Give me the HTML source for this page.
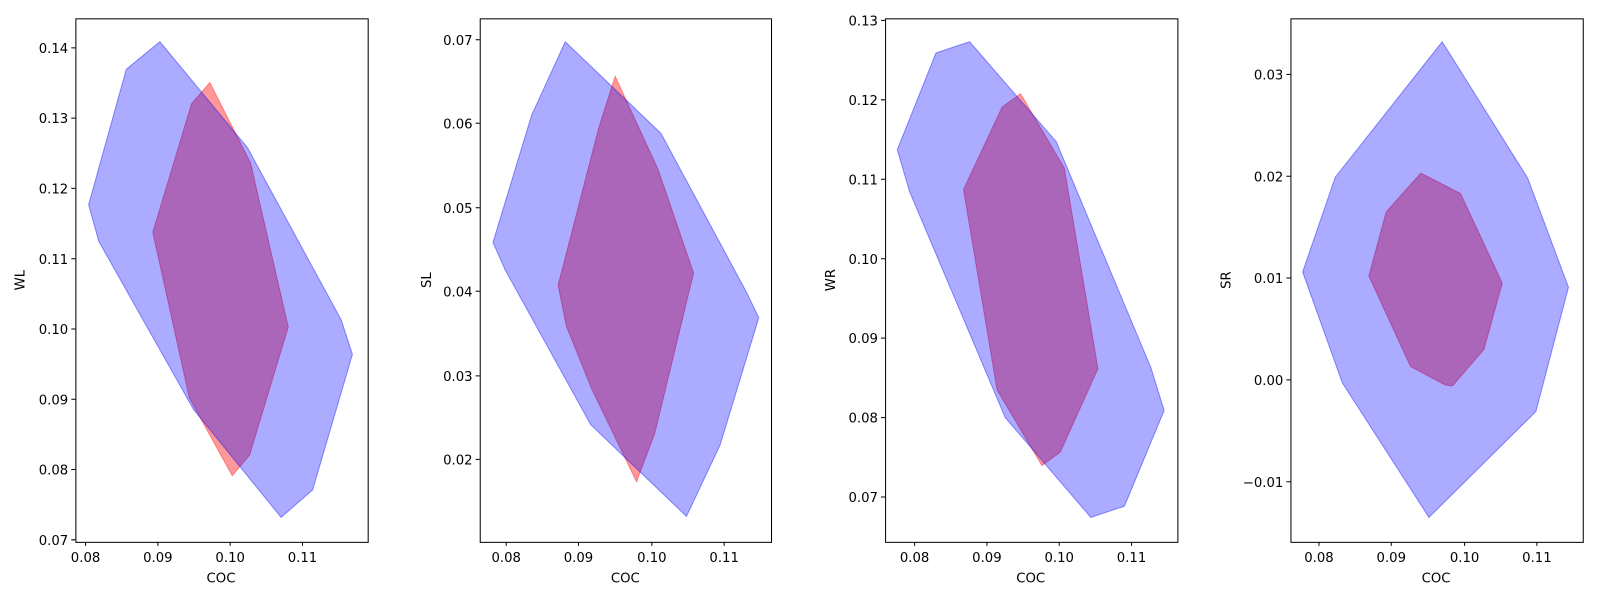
<!DOCTYPE html>
<html style="overflow:hidden"><head><style>html,body{margin:0;padding:0;overflow:hidden;background:#fff}svg{display:block}text{font-family:"DejaVu Sans","Liberation Sans",sans-serif;font-size:13px;fill:#000}</style></head>
<body>
<svg width="1597" height="600" viewBox="0 0 1568 589.1" preserveAspectRatio="none" xmlns="http://www.w3.org/2000/svg">
<g stroke-width="1">
<polygon points="150,228 188,102 206,81 246,160 283,321 245,447 228,467 186,391" fill="rgba(255,0,0,0.4)" stroke="rgba(255,0,0,0.4)"/>
<polygon points="87,201 124,68 157,41 243,145 335,314 346,348 307,481 276,508 190,402 97,237" fill="rgba(0,0,255,0.33)" stroke="rgba(0,0,255,0.4)"/>
<rect x="74.5" y="18.5" width="287" height="514" fill="none" stroke="#000"/>
<polygon points="548,280 588,125 604,75 646,166 681,268 643,425 625,473 581,382 556,320" fill="rgba(255,0,0,0.4)" stroke="rgba(255,0,0,0.4)"/>
<polygon points="484,238 522,113 555,41 649,131 733,287 745,312 707,437 674,507 580,417 496,265" fill="rgba(0,0,255,0.33)" stroke="rgba(0,0,255,0.4)"/>
<rect x="471.5" y="18.5" width="286" height="514" fill="none" stroke="#000"/>
<polygon points="946,186 984,105 1002,92 1045,165 1078,362 1041,444 1023,457 979,383" fill="rgba(255,0,0,0.4)" stroke="rgba(255,0,0,0.4)"/>
<polygon points="881,147 919,52 952,41 1037,139 1130,361 1143,403 1104,497 1071,508 987,410 893,188" fill="rgba(0,0,255,0.33)" stroke="rgba(0,0,255,0.4)"/>
<rect x="869.5" y="18.5" width="287" height="514" fill="none" stroke="#000"/>
<polygon points="1344,271 1361,208 1395,170 1434,190 1475,278 1457,343 1426,379 1419,378 1385,360" fill="rgba(255,0,0,0.4)" stroke="rgba(255,0,0,0.4)"/>
<polygon points="1279,267 1311,174 1416,41 1500,175 1540,282 1508,404 1403,508 1318,376" fill="rgba(0,0,255,0.33)" stroke="rgba(0,0,255,0.4)"/>
<rect x="1267.5" y="18.5" width="287" height="514" fill="none" stroke="#000"/>
</g>
<g stroke="#000">
<path d="M84,532v4M155,532v4M226,532v4M297,532v4 M497,532v4M568,532v4M640,532v4M711,532v4 M898,532v4M969,532v4M1040,532v4M1111,532v4 M1295,532v4M1366,532v4M1438,532v4M1509,532v4"/>
<path d="M74,47h-4M74,116h-4M74,185h-4M74,254h-4M74,323h-4M74,392h-4M74,461h-4M74,530h-4"/>
<path d="M471,39h-4M471,121h-4M471,204h-4M471,286h-4M471,369h-4M471,451h-4"/>
<path d="M869,20h-4M869,98h-4M869,176h-4M869,254h-4M869,332h-4M869,410h-4M869,488h-4"/>
<path d="M1267,73h-4M1267,173h-4M1267,273h-4M1267,373h-4M1267,473h-4"/>
</g>
<g text-anchor="middle">
<text x="84" y="552">0.08</text><text x="155" y="552">0.09</text><text x="226" y="552">0.10</text><text x="297" y="552">0.11</text>
<text x="497" y="552">0.08</text><text x="568" y="552">0.09</text><text x="640" y="552">0.10</text><text x="711" y="552">0.11</text>
<text x="898" y="552">0.08</text><text x="969" y="552">0.09</text><text x="1040" y="552">0.10</text><text x="1111" y="552">0.11</text>
<text x="1295" y="552">0.08</text><text x="1366" y="552">0.09</text><text x="1438" y="552">0.10</text><text x="1509" y="552">0.11</text>
<text x="217" y="572">COC</text><text x="614" y="572">COC</text><text x="1012" y="572">COC</text><text x="1410" y="572">COC</text>
<text transform="translate(24,275) rotate(-90)">WL</text>
<text transform="translate(423,275) rotate(-90)">SL</text>
<text transform="translate(820,275) rotate(-90)">WR</text>
<text transform="translate(1208,275) rotate(-90)">SR</text>
</g>
<g text-anchor="end">
<text x="67" y="52">0.14</text><text x="67" y="121">0.13</text><text x="67" y="190">0.12</text><text x="67" y="259">0.11</text><text x="67" y="328">0.10</text><text x="67" y="397">0.09</text><text x="67" y="466">0.08</text><text x="67" y="535">0.07</text>
<text x="464" y="44">0.07</text><text x="464" y="126">0.06</text><text x="464" y="209">0.05</text><text x="464" y="291">0.04</text><text x="464" y="374">0.03</text><text x="464" y="456">0.02</text>
<text x="862" y="25">0.13</text><text x="862" y="103">0.12</text><text x="862" y="181">0.11</text><text x="862" y="259">0.10</text><text x="862" y="337">0.09</text><text x="862" y="415">0.08</text><text x="862" y="493">0.07</text>
<text x="1260" y="78">0.03</text><text x="1260" y="178">0.02</text><text x="1260" y="278">0.01</text><text x="1260" y="378">0.00</text><text x="1260" y="478">−0.01</text>
</g>
</svg>
</body></html>
